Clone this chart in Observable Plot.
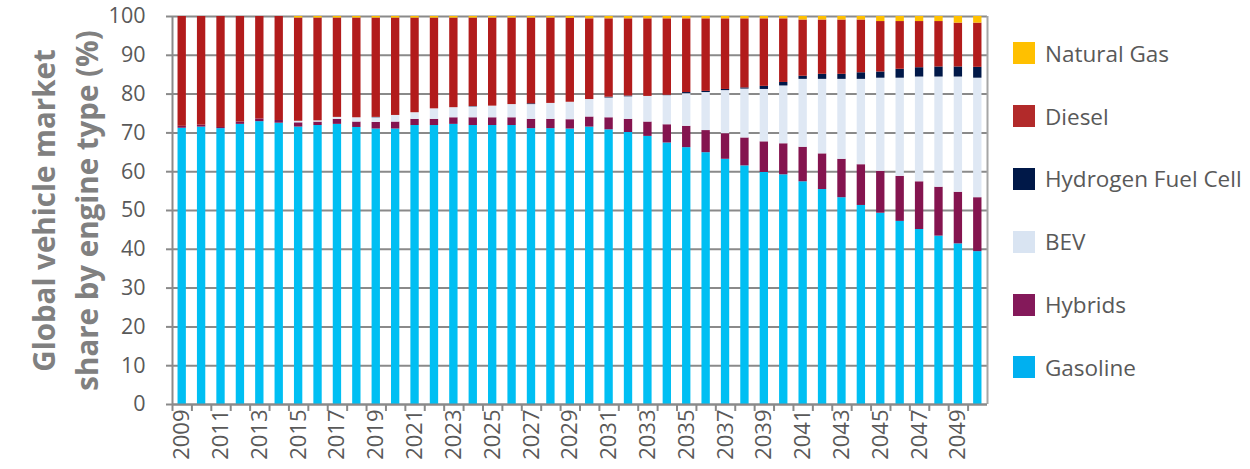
<!DOCTYPE html>
<html>
<head>
<meta charset="utf-8">
<script src="https://cdn.jsdelivr.net/npm/d3@7"></script>
<script src="https://cdn.jsdelivr.net/npm/@observablehq/plot@0.6"></script>
<style>
  html, body { margin: 0; padding: 0; background: #fff; }
  #wrap { position: relative; width: 1250px; height: 469px; font-family: "Open Sans", sans-serif; }
  #chart { position: absolute; left: 0; top: 0; }
  #legend { position: absolute; left: 1013px; top: 22px; }
  .row { height: 62.8px; display: flex; align-items: center; }
  .sw { width: 22px; height: 22px; margin-right: 10px; }
  .lab { font-size: 22.5px; color: #595959; white-space: nowrap; }
</style>
</head>
<body>
<div id="wrap"><div id="chart"></div><div id="legend"></div></div>
<script>
const years = [2009,2010,2011,2012,2013,2014,2015,2016,2017,2018,2019,2020,2021,2022,2023,2024,2025,2026,2027,2028,2029,2030,2031,2032,2033,2034,2035,2036,2037,2038,2039,2040,2041,2042,2043,2044,2045,2046,2047,2048,2049,2050];
const xTickLabels = [2009,2011,2013,2015,2017,2019,2021,2023,2025,2027,2029,2031,2033,2035,2037,2039,2041,2043,2045,2047,2049];
const yTicks = [0,10,20,30,40,50,60,70,80,90,100];

const gasoline = [71.2,71.5,71.1,72.2,72.9,72.5,71.5,71.9,72.2,71.4,71.0,71.0,71.9,71.9,72.2,71.9,71.9,71.9,71.1,71.1,71.0,71.5,70.8,70.1,69.1,67.4,66.2,64.9,63.2,61.5,59.8,59.2,57.4,55.4,53.3,51.3,49.3,47.2,45.1,43.4,41.4,39.4];
const hybrids = [0.5,0.5,0.3,0.6,0.7,0.7,1.1,0.9,1.3,1.4,1.7,1.8,1.6,1.6,1.7,2.0,2.0,2.0,2.4,2.4,2.4,2.6,3.1,3.4,3.7,4.7,5.5,5.7,6.6,7.2,7.9,8.0,8.9,9.2,9.9,10.5,10.8,11.6,12.3,12.6,13.3,13.9];
const bev = [0,0,0,0,0,0,0.4,0.3,0.5,1.1,1.2,1.7,1.7,2.7,2.6,2.8,3.0,3.4,3.8,4.1,4.5,4.5,5.1,5.8,6.6,7.5,8.4,9.8,11.1,12.6,13.5,14.9,17.5,19.2,20.6,22.0,24.0,25.3,27.0,28.4,29.7,30.8];
const hydrogen = [0,0,0,0,0,0,0,0,0,0,0.1,0,0,0,0,0.1,0,0,0.2,0,0,0,0.2,0.2,0,0.1,0.3,0.3,0.3,0.3,0.8,0.9,0.8,1.3,1.3,1.7,1.6,2.3,2.4,2.6,2.6,2.8];
const diesel = [28.3,28.0,28.6,27.2,26.4,26.8,26.6,26.5,25.6,25.7,25.6,25.1,24.4,23.4,23.1,22.8,22.7,22.3,22.1,22.0,21.6,20.8,20.2,19.9,20.0,19.7,19.0,18.7,18.2,17.8,17.4,16.4,14.5,14.0,14.0,13.6,13.0,12.3,11.9,11.7,11.3,11.4];
const naturalGas = [0,0,0,0,0,0,0.4,0.4,0.4,0.4,0.4,0.4,0.4,0.4,0.4,0.4,0.4,0.4,0.4,0.4,0.5,0.6,0.6,0.6,0.6,0.6,0.6,0.6,0.6,0.6,0.6,0.6,0.9,0.9,0.9,0.9,1.3,1.3,1.3,1.3,1.7,1.7];

const types = ["Gasoline","Hybrids","BEV","Hydrogen Fuel Cell","Diesel","Natural Gas"];
const colors = ["#00BFF3","#84144F","#DFE8F4","#001848","#B21C1C","#FFC000"];
const legendTypes = ["Natural Gas","Diesel","Hydrogen Fuel Cell","BEV","Hybrids","Gasoline"];
const legendColors = ["#FFC000","#B22A2A","#001848","#D9E4F2","#84195A","#00B0F0"];
const seriesList = [gasoline, hybrids, bev, hydrogen, diesel, naturalGas];

const rows = [];
types.forEach((t, i) => years.forEach((y, j) => rows.push({year: y, type: t, value: seriesList[i][j]})));

const W = 1000, H = 469, ML = 172, MR = 13, MT = 16, MB = 65;
const step = (W - ML - MR) / years.length;

const chart = Plot.plot({
  width: W, height: H,
  marginLeft: ML, marginRight: MR, marginTop: MT, marginBottom: MB,
  style: {fontFamily: "'Open Sans', sans-serif", color: "#595959", background: "white"},
  x: {type: "band", domain: years, paddingInner: 0.57, paddingOuter: 0.285, round: false, label: null},
  y: {domain: [0, 100], label: null},
  color: {domain: types, range: colors},
  marks: [
    Plot.gridY(yTicks, {stroke: "#8a8a8a", strokeOpacity: 1, strokeWidth: 2}),
    Plot.barY(rows, Plot.stackY({x: "year", y: "value", fill: "type", order: types})),
    Plot.ruleX([years[years.length - 1]], {stroke: "#a6a6a6", strokeWidth: 2, dx: step / 2, y1: 0, y2: 100}),
    Plot.axisY(yTicks, {tickSize: 6, tickPadding: 21, fontSize: 21.5, stroke: "#8a8a8a", strokeWidth: 2, fill: "#595959"}),
    Plot.ruleX([years[0]], {stroke: "#8a8a8a", strokeWidth: 2, dx: -step / 2, y1: 0, y2: 100}),
    Plot.ruleY([0], {stroke: "#8a8a8a", strokeWidth: 2}),
    Plot.axisX(years, {tickSize: 7, tickFormat: () => "", dx: -step / 2, stroke: "#8a8a8a", strokeWidth: 2}),
    Plot.axisX(xTickLabels, {tickSize: 0, tickPadding: 5, tickRotate: -90, tickFormat: d => String(d), fontSize: 22, fill: "#595959"}),
    Plot.text(["Global vehicle market\nshare by engine type (%)"], {
      frameAnchor: "left", dx: -110, rotate: -90, fontSize: 29.5, fontWeight: "bold",
      fill: "#808080", lineHeight: 1.45, textAnchor: "middle"
    })
  ]
});
document.getElementById("chart").appendChild(chart);

const legend = document.getElementById("legend");
legendTypes.forEach((t, i) => {
  const r = document.createElement("div");
  r.className = "row";
  r.innerHTML = `<div class="sw" style="background:${legendColors[i]}"></div><div class="lab">${t}</div>`;
  legend.appendChild(r);
});
</script>
</body>
</html>
